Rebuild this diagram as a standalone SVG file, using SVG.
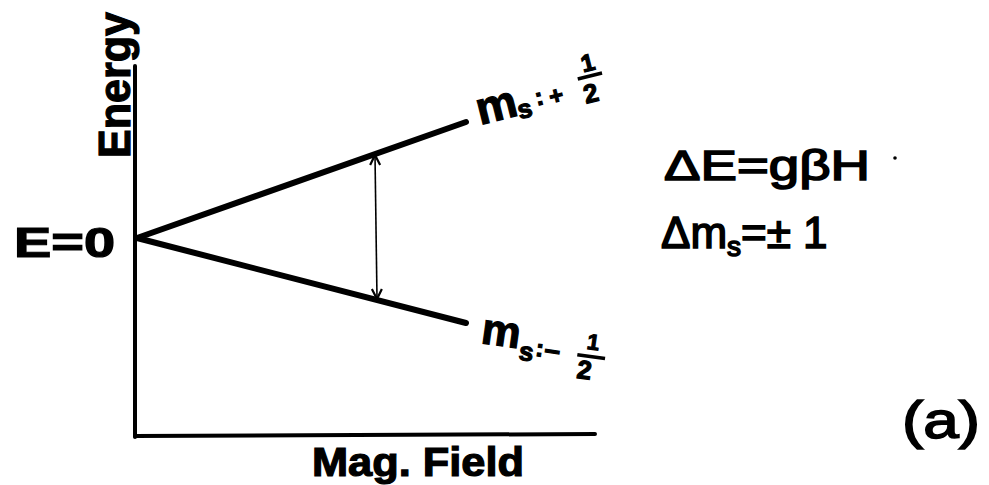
<svg xmlns="http://www.w3.org/2000/svg" width="989" height="485" viewBox="0 0 989 485">
<style>
.t{font-family:"Liberation Sans",Arial,sans-serif;font-weight:bold;fill:#000;stroke:#000;stroke-width:1.2}
.n{font-family:"Liberation Sans",Arial,sans-serif;font-weight:normal;fill:#000;stroke:#000;stroke-width:1.6}
.ax{stroke:#000;stroke-width:4;fill:none;stroke-linecap:round}
.lv{stroke:#000;stroke-width:6;fill:none;stroke-linecap:round}
.ar{stroke:#000;stroke-width:1.6;fill:none}
.fb{stroke:#000;stroke-width:3.5}
</style>
<defs>
<marker id="ah" viewBox="0 0 12 12" refX="11" refY="6" markerWidth="12" markerHeight="12" markerUnits="userSpaceOnUse" orient="auto-start-reverse">
<path d="M1,1 L11,6 L1,11" fill="none" stroke="#000" stroke-width="2.2"/>
</marker>
</defs>
<rect width="989" height="485" fill="#fff"/>
<g id="connectors">
<line class="ax" x1="135" y1="66" x2="135" y2="437"/>
<line class="ax" x1="135" y1="436" x2="595" y2="434"/>
<line class="lv" x1="137" y1="238" x2="466" y2="122"/>
<line class="lv" x1="137" y1="238" x2="466" y2="323"/>
<line class="ar" x1="375" y1="155" x2="377" y2="299" marker-start="url(#ah)" marker-end="url(#ah)"/>
</g>
<g id="energy-label">
<text class="t" font-size="44" transform="translate(130,158) rotate(-90)" textLength="146" lengthAdjust="spacingAndGlyphs">Energy</text>
</g>
<g id="e0-label">
<text class="t" font-size="42" x="14" y="257" textLength="101" lengthAdjust="spacingAndGlyphs">E=0</text>
</g>
<g id="upper-label">
<g transform="translate(480,125) rotate(-14)">
<text class="t" font-size="46" x="0" y="0">m</text>
<text class="t" font-size="26" x="40" y="4">s</text>
<text class="t" font-size="24" x="60" y="-5">:</text>
<text class="t" font-size="24" x="74" y="-2">+</text>
<text class="t" font-size="24" x="113" y="-26">1</text>
<line class="fb" x1="106" y1="-21" x2="131" y2="-21"/>
<text class="t" font-size="26" x="108" y="5">2</text>
</g>
</g>
<g id="lower-label">
<g transform="translate(480,343) rotate(8)">
<text class="t" font-size="44" x="0" y="0">m</text>
<text class="t" font-size="26" x="40" y="11">s</text>
<text class="t" font-size="24" x="56" y="5">:</text>
<text class="t" font-size="28" x="65" y="6">–</text>
<text class="t" font-size="22" x="106" y="-9">1</text>
<line class="fb" x1="98" y1="-2" x2="126" y2="-2"/>
<text class="t" font-size="26" x="100" y="21">2</text>
</g>
</g>
<g id="eq1">
<text class="n" font-size="42" x="664" y="180" textLength="206" lengthAdjust="spacingAndGlyphs">ΔE=gβH</text>
<circle cx="895" cy="158" r="1.8" fill="#000"/>
</g>
<g id="eq2">
<text class="n" font-size="44" x="661" y="248">Δm<tspan font-size="28" dy="8">s</tspan><tspan dy="-8">=± 1</tspan></text>
</g>
<g id="field-label">
<text class="t" font-size="40" x="312" y="476" textLength="212" lengthAdjust="spacingAndGlyphs">Mag. Field</text>
</g>
<g id="panel-label">
<text class="n" font-size="52" x="902" y="438" textLength="78" lengthAdjust="spacingAndGlyphs">(a)</text>
</g>
</svg>
